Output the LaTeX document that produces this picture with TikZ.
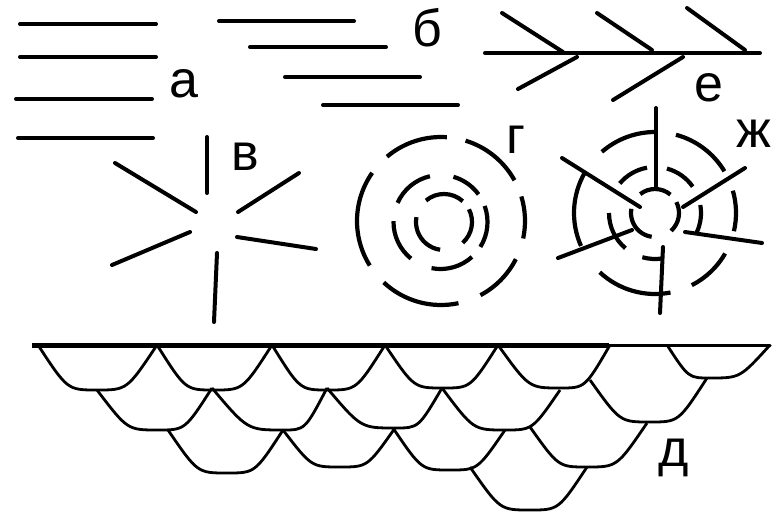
\documentclass[tikz,border=0pt]{standalone}
\usepackage{fontspec}
\setmainfont{Liberation Sans}
\newcommand\myscale[6]{\draw[sc] (#1,-#2) .. controls ({(#1+#3)/2},-#4) .. (#3,-#4) .. controls ({(#3+#5)/2},-#4) .. (#5,-#6);}
\begin{document}
\begin{tikzpicture}[x=1pt,y=1pt,
  ln/.style={line width=4pt,line cap=round},
  circ/.style={line width=4.2pt,line cap=butt},
  sc/.style={line width=2.8pt,line join=round},
  lbl/.style={anchor=base,inner sep=0pt,font=\fontsize{52}{52}\selectfont}]
\path[use as bounding box] (0,0) rectangle (778,-515);
% --- a
\draw[ln] (20,-24) -- (156,-24);
\draw[ln] (20,-57) -- (156,-57);
\draw[ln] (16,-99) -- (152,-99);
\draw[ln] (18,-138) -- (153,-138);
\node[lbl] (la) at (183.5,-97) {а};
% --- b
\draw[ln] (219,-21) -- (354,-21);
\draw[ln] (250,-47) -- (386,-47);
\draw[ln] (285,-77) -- (420,-77);
\draw[ln] (323,-105) -- (458,-105);
\node[lbl] (lb) at (427.5,-46) {б};
% --- e
\draw[ln] (485,-53) -- (760,-53);
\draw[ln] (502,-13) -- (563,-52);
\draw[ln] (597,-13) -- (652,-50);
\draw[ln] (687,-8) -- (745,-50);
\draw[ln] (577,-57) -- (518,-89);
\draw[ln] (683,-57) -- (613,-100);
\node[lbl] (le) at (709,-101) {е};
% --- v
\draw[ln] (207,-137) -- (207,-193);
\draw[ln] (115,-163) -- (196,-212);
\draw[ln] (238,-212) -- (299,-173);
\draw[ln] (112,-265) -- (190,-232);
\draw[ln] (237,-237) -- (316,-249);
\draw[ln] (217,-253) -- (214,-322);
\node[lbl] (lv) at (245,-170) {в};
% --- g
\foreach \a/\b in {86/130,145/212,227/282,298/333,348/377,29/73}
  \draw[circ] (441,-221) ++(\a:84) arc[start angle=\a,end angle=\b,radius=84];
\foreach \a/\b in {103/156,36/74,-32/20,-101/-48,179/231}
  \draw[circ] (440.5,-222) ++(\a:47) arc[start angle=\a,end angle=\b,radius=47];
\foreach \a/\b in {48/130,-48/27,170/262}
  \draw[circ] (444,-222) ++(\a:28) arc[start angle=\a,end angle=\b,radius=28];
\node[lbl] (lg) at (515.5,-153) {г};
% --- zh
\foreach \a/\b in {90/131,150/204,227/281,297/330,347/376,31/75}
  \draw[circ] (655,-213) ++(\a:81) arc[start angle=\a,end angle=\b,radius=81];
\foreach \a/\b in {100/140,35/75,-25/10,-106/-80,180/230}
  \draw[circ] (655,-213) ++(\a:46) arc[start angle=\a,end angle=\b,radius=46];
\foreach \a/\b in {50/128,-48/27,170/262}
  \draw[circ] (655,-213) ++(\a:24) arc[start angle=\a,end angle=\b,radius=24];
\draw[ln] (656,-108) -- (656,-187);
\draw[ln] (562,-158) -- (640,-207);
\draw[ln] (745,-168) -- (683,-207);
\draw[ln] (558,-258) -- (632,-230);
\draw[ln] (685,-232) -- (762,-243);
\draw[ln] (663,-247) -- (660,-313);
\node[lbl] (lzh) at (754,-147) {ж};
% --- d
\draw[line width=5pt] (32,-345) -- (609,-345);
\draw[line width=3pt,line cap=round] (607,-345) -- (770,-345);
\myscale{38}{345}{97}{390}{157}{345}
\myscale{157}{345}{214}{390}{272}{345}
\myscale{272}{345}{328}{390}{385}{345}
\myscale{385}{345}{443}{388}{498}{345}
\myscale{498}{345}{560}{388}{610}{345}
\myscale{667}{345}{710}{378}{770}{345}
\myscale{97}{390}{158}{430}{212}{388}
\myscale{212}{388}{283}{430}{327}{388}
\myscale{327}{388}{395}{428}{442}{388}
\myscale{442}{388}{505}{430}{560}{390}
\myscale{590}{380}{650}{422}{707}{378}
\myscale{168}{430}{227}{473}{283}{430}
\myscale{283}{430}{340}{467}{395}{428}
\myscale{393}{428}{450}{470}{505}{430}
\myscale{530}{427}{587}{467}{647}{423}
\myscale{470}{467}{530}{510}{587}{467}
\node[lbl] (ld) at (673.5,-466) {д};
\end{tikzpicture}
\end{document}
